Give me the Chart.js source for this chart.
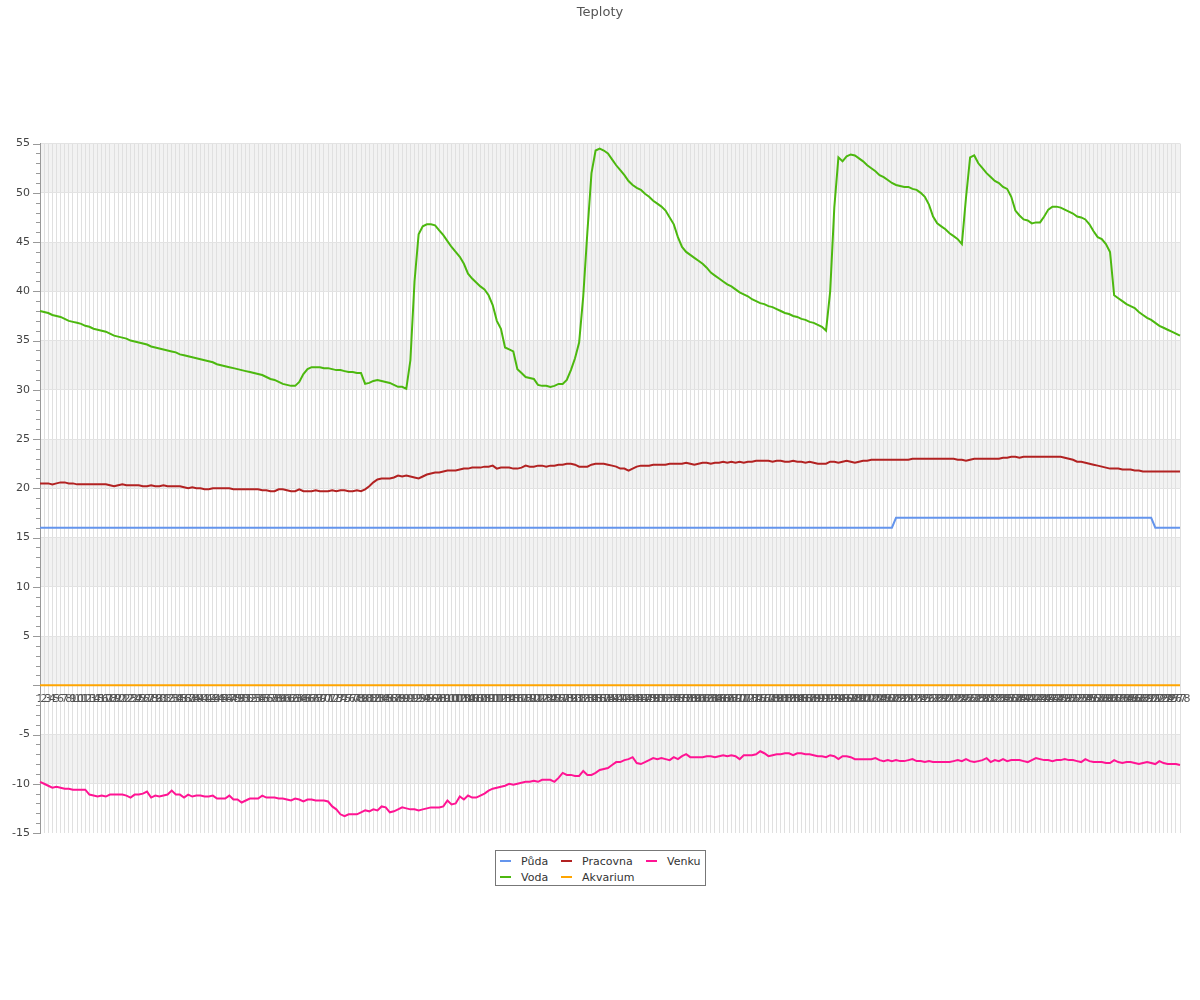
<!DOCTYPE html>
<html>
<head>
<meta charset="utf-8">
<title>Teploty</title>
<script src="https://cdn.jsdelivr.net/npm/chart.js@4.4.1/dist/chart.umd.min.js"></script>
<style>
  body { margin: 0; background: #fff; font-family: "DejaVu Sans", sans-serif; }
  #wrap { position: relative; width: 1200px; height: 1000px; }
  #legend {
    position: absolute; left: 495px; top: 850px; box-sizing: border-box;
    width: 211px; height: 36px; border: 1px solid #777; background: #fff;
    padding: 2px 4px; display: grid; grid-template-columns: 61px 85px 55px;
    grid-template-rows: 16px 16px; grid-auto-flow: column;
    font-size: 11px; color: #333;
  }
  #legend .item { display: flex; align-items: center; white-space: nowrap; }
  #legend .sw { width: 11px; height: 2px; margin-right: 10px; }
</style>
</head>
<body>
<div id="wrap">
  <canvas id="teploty" width="1200" height="1000"></canvas>
  <div id="legend"></div>
</div>
<script>
const labels = [];
for (let i = 1; i <= 278; i++) labels.push(String(i));

const seriesNames = ["Půda", "Voda", "Pracovna", "Akvarium", "Venku"];
const seriesColors = ["#6495ed", "#4cb80f", "#b22222", "#ffa500", "#ff1493"];

const puda = [
  16, 16, 16, 16, 16, 16, 16, 16, 16, 16,
  16, 16, 16, 16, 16, 16, 16, 16, 16, 16,
  16, 16, 16, 16, 16, 16, 16, 16, 16, 16,
  16, 16, 16, 16, 16, 16, 16, 16, 16, 16,
  16, 16, 16, 16, 16, 16, 16, 16, 16, 16,
  16, 16, 16, 16, 16, 16, 16, 16, 16, 16,
  16, 16, 16, 16, 16, 16, 16, 16, 16, 16,
  16, 16, 16, 16, 16, 16, 16, 16, 16, 16,
  16, 16, 16, 16, 16, 16, 16, 16, 16, 16,
  16, 16, 16, 16, 16, 16, 16, 16, 16, 16,
  16, 16, 16, 16, 16, 16, 16, 16, 16, 16,
  16, 16, 16, 16, 16, 16, 16, 16, 16, 16,
  16, 16, 16, 16, 16, 16, 16, 16, 16, 16,
  16, 16, 16, 16, 16, 16, 16, 16, 16, 16,
  16, 16, 16, 16, 16, 16, 16, 16, 16, 16,
  16, 16, 16, 16, 16, 16, 16, 16, 16, 16,
  16, 16, 16, 16, 16, 16, 16, 16, 16, 16,
  16, 16, 16, 16, 16, 16, 16, 16, 16, 16,
  16, 16, 16, 16, 16, 16, 16, 16, 16, 16,
  16, 16, 16, 16, 16, 16, 16, 16, 16, 16,
  16, 16, 16, 16, 16, 16, 16, 16, 17, 17,
  17, 17, 17, 17, 17, 17, 17, 17, 17, 17,
  17, 17, 17, 17, 17, 17, 17, 17, 17, 17,
  17, 17, 17, 17, 17, 17, 17, 17, 17, 17,
  17, 17, 17, 17, 17, 17, 17, 17, 17, 17,
  17, 17, 17, 17, 17, 17, 17, 17, 17, 17,
  17, 17, 17, 17, 17, 17, 17, 17, 17, 17,
  17, 16, 16, 16, 16, 16, 16, 16
];

const voda = [
  38.0, 37.9, 37.8, 37.6, 37.5, 37.4, 37.2, 37.0, 36.9, 36.8,
  36.7, 36.5, 36.4, 36.2, 36.1, 36.0, 35.9, 35.7, 35.5, 35.4,
  35.3, 35.2, 35.0, 34.9, 34.8, 34.7, 34.6, 34.4, 34.3, 34.2,
  34.1, 34.0, 33.9, 33.8, 33.6, 33.5, 33.4, 33.3, 33.2, 33.1,
  33.0, 32.9, 32.8, 32.6, 32.5, 32.4, 32.3, 32.2, 32.1, 32.0,
  31.9, 31.8, 31.7, 31.6, 31.5, 31.3, 31.1, 31.0, 30.8, 30.6,
  30.5, 30.4, 30.4, 30.8, 31.6, 32.1, 32.3, 32.3, 32.3, 32.2,
  32.2, 32.1, 32.0, 32.0, 31.9, 31.8, 31.8, 31.7, 31.7, 30.6,
  30.7, 30.9, 31.0, 30.9, 30.8, 30.7, 30.5, 30.3, 30.3, 30.1,
  33.0, 41.0, 45.8, 46.6, 46.8, 46.8, 46.7, 46.2, 45.7, 45.1,
  44.5, 44.0, 43.5, 42.8, 41.8, 41.3, 40.9, 40.5, 40.2, 39.6,
  38.6, 37.0, 36.2, 34.3, 34.1, 33.9, 32.1, 31.7, 31.3, 31.2,
  31.1, 30.5, 30.4, 30.4, 30.3, 30.4, 30.6, 30.6, 31.0, 32.0,
  33.2, 34.8, 39.5, 46.0, 52.0, 54.3, 54.5, 54.3, 54.0, 53.4,
  52.8, 52.3, 51.8, 51.2, 50.8, 50.5, 50.3, 49.9, 49.6, 49.2,
  48.9, 48.6, 48.2, 47.5, 46.8, 45.5, 44.5, 44.0, 43.7, 43.4,
  43.1, 42.8, 42.4, 41.9, 41.6, 41.3, 41.0, 40.7, 40.5, 40.2,
  39.9, 39.7, 39.5, 39.2, 39.0, 38.8, 38.7, 38.5, 38.4, 38.2,
  38.0, 37.8, 37.7, 37.5, 37.4, 37.2, 37.1, 36.9, 36.8, 36.6,
  36.4, 36.0, 40.0, 48.5, 53.6, 53.2, 53.7, 53.9, 53.8, 53.5,
  53.2, 52.8, 52.5, 52.2, 51.8, 51.6, 51.3, 51.0, 50.8, 50.7,
  50.6, 50.6, 50.4, 50.3, 50.0, 49.6, 48.8, 47.6, 46.9, 46.6,
  46.3, 45.9, 45.6, 45.3, 44.8, 49.5, 53.6, 53.8, 53.0, 52.5,
  52.0, 51.6, 51.2, 51.0, 50.6, 50.4, 49.6, 48.2, 47.7, 47.3,
  47.2, 46.9, 47.0, 47.0, 47.6, 48.3, 48.6, 48.6, 48.5, 48.3,
  48.1, 47.9, 47.6, 47.5, 47.3, 46.8, 46.1, 45.5, 45.3, 44.8,
  44.0, 39.6, 39.3, 39.0, 38.7, 38.5, 38.3, 37.9, 37.6, 37.3,
  37.1, 36.8, 36.5, 36.3, 36.1, 35.9, 35.7, 35.5
];

const pracovna = [
  20.5, 20.5, 20.5, 20.4, 20.5, 20.6, 20.6, 20.5, 20.5, 20.4,
  20.4, 20.4, 20.4, 20.4, 20.4, 20.4, 20.4, 20.3, 20.2, 20.3,
  20.4, 20.3, 20.3, 20.3, 20.3, 20.2, 20.2, 20.3, 20.2, 20.2,
  20.3, 20.2, 20.2, 20.2, 20.2, 20.1, 20.0, 20.1, 20.0, 20.0,
  19.9, 19.9, 20.0, 20.0, 20.0, 20.0, 20.0, 19.9, 19.9, 19.9,
  19.9, 19.9, 19.9, 19.9, 19.8, 19.8, 19.7, 19.7, 19.9, 19.9,
  19.8, 19.7, 19.7, 19.9, 19.7, 19.7, 19.7, 19.8, 19.7, 19.7,
  19.7, 19.8, 19.7, 19.8, 19.8, 19.7, 19.7, 19.8, 19.7, 19.9,
  20.2, 20.6, 20.9, 21.0, 21.0, 21.0, 21.1, 21.3, 21.2, 21.3,
  21.2, 21.1, 21.0, 21.2, 21.4, 21.5, 21.6, 21.6, 21.7, 21.8,
  21.8, 21.8, 21.9, 22.0, 22.0, 22.1, 22.1, 22.1, 22.2, 22.2,
  22.3, 22.0, 22.1, 22.1, 22.1, 22.0, 22.0, 22.1, 22.3, 22.2,
  22.2, 22.3, 22.3, 22.2, 22.3, 22.3, 22.4, 22.4, 22.5, 22.5,
  22.4, 22.2, 22.2, 22.2, 22.4, 22.5, 22.5, 22.5, 22.4, 22.3,
  22.2, 22.0, 22.0, 21.8, 22.0, 22.2, 22.3, 22.3, 22.3, 22.4,
  22.4, 22.4, 22.4, 22.5, 22.5, 22.5, 22.5, 22.6, 22.5, 22.4,
  22.5, 22.6, 22.6, 22.5, 22.6, 22.6, 22.7, 22.6, 22.7, 22.6,
  22.7, 22.6, 22.7, 22.7, 22.8, 22.8, 22.8, 22.8, 22.7, 22.8,
  22.8, 22.7, 22.7, 22.8, 22.7, 22.7, 22.6, 22.7, 22.6, 22.5,
  22.5, 22.5, 22.7, 22.7, 22.6, 22.7, 22.8, 22.7, 22.6, 22.7,
  22.8, 22.8, 22.9, 22.9, 22.9, 22.9, 22.9, 22.9, 22.9, 22.9,
  22.9, 22.9, 23.0, 23.0, 23.0, 23.0, 23.0, 23.0, 23.0, 23.0,
  23.0, 23.0, 23.0, 22.9, 22.9, 22.8, 22.9, 23.0, 23.0, 23.0,
  23.0, 23.0, 23.0, 23.0, 23.1, 23.1, 23.2, 23.2, 23.1, 23.2,
  23.2, 23.2, 23.2, 23.2, 23.2, 23.2, 23.2, 23.2, 23.2, 23.1,
  23.0, 22.9, 22.7, 22.7, 22.6, 22.5, 22.4, 22.3, 22.2, 22.1,
  22.0, 22.0, 22.0, 21.9, 21.9, 21.9, 21.8, 21.8, 21.7, 21.7,
  21.7, 21.7, 21.7, 21.7, 21.7, 21.7, 21.7, 21.7
];

const akvarium = [
  0, 0, 0, 0, 0, 0, 0, 0, 0, 0,
  0, 0, 0, 0, 0, 0, 0, 0, 0, 0,
  0, 0, 0, 0, 0, 0, 0, 0, 0, 0,
  0, 0, 0, 0, 0, 0, 0, 0, 0, 0,
  0, 0, 0, 0, 0, 0, 0, 0, 0, 0,
  0, 0, 0, 0, 0, 0, 0, 0, 0, 0,
  0, 0, 0, 0, 0, 0, 0, 0, 0, 0,
  0, 0, 0, 0, 0, 0, 0, 0, 0, 0,
  0, 0, 0, 0, 0, 0, 0, 0, 0, 0,
  0, 0, 0, 0, 0, 0, 0, 0, 0, 0,
  0, 0, 0, 0, 0, 0, 0, 0, 0, 0,
  0, 0, 0, 0, 0, 0, 0, 0, 0, 0,
  0, 0, 0, 0, 0, 0, 0, 0, 0, 0,
  0, 0, 0, 0, 0, 0, 0, 0, 0, 0,
  0, 0, 0, 0, 0, 0, 0, 0, 0, 0,
  0, 0, 0, 0, 0, 0, 0, 0, 0, 0,
  0, 0, 0, 0, 0, 0, 0, 0, 0, 0,
  0, 0, 0, 0, 0, 0, 0, 0, 0, 0,
  0, 0, 0, 0, 0, 0, 0, 0, 0, 0,
  0, 0, 0, 0, 0, 0, 0, 0, 0, 0,
  0, 0, 0, 0, 0, 0, 0, 0, 0, 0,
  0, 0, 0, 0, 0, 0, 0, 0, 0, 0,
  0, 0, 0, 0, 0, 0, 0, 0, 0, 0,
  0, 0, 0, 0, 0, 0, 0, 0, 0, 0,
  0, 0, 0, 0, 0, 0, 0, 0, 0, 0,
  0, 0, 0, 0, 0, 0, 0, 0, 0, 0,
  0, 0, 0, 0, 0, 0, 0, 0, 0, 0,
  0, 0, 0, 0, 0, 0, 0, 0
];

const venku = [
  -9.8, -10.0, -10.2, -10.4, -10.3, -10.4, -10.5, -10.5, -10.6, -10.6,
  -10.6, -10.6, -11.1, -11.2, -11.3, -11.2, -11.3, -11.1, -11.1, -11.1,
  -11.1, -11.2, -11.4, -11.1, -11.1, -11.0, -10.8, -11.4, -11.2, -11.3,
  -11.2, -11.1, -10.7, -11.1, -11.1, -11.4, -11.1, -11.3, -11.2, -11.2,
  -11.3, -11.3, -11.2, -11.5, -11.5, -11.5, -11.2, -11.6, -11.6, -11.9,
  -11.7, -11.5, -11.5, -11.5, -11.2, -11.4, -11.4, -11.4, -11.5, -11.5,
  -11.6, -11.7, -11.5, -11.6, -11.8, -11.6, -11.6, -11.7, -11.7, -11.7,
  -11.8, -12.3, -12.6, -13.1, -13.3, -13.1, -13.1, -13.1, -12.9, -12.7,
  -12.8, -12.6, -12.7, -12.3, -12.4, -12.9, -12.8, -12.6, -12.4, -12.5,
  -12.6, -12.6, -12.7, -12.6, -12.5, -12.4, -12.4, -12.4, -12.3, -11.7,
  -12.1, -12.0, -11.3, -11.6, -11.2, -11.4, -11.4, -11.2, -11.0, -10.7,
  -10.5, -10.4, -10.3, -10.2, -10.0, -10.1, -10.0, -9.9, -9.8, -9.8,
  -9.7, -9.8, -9.6, -9.6, -9.6, -9.8, -9.4, -8.9, -9.1, -9.1,
  -9.2, -9.2, -8.7, -9.1, -9.1, -8.9, -8.6, -8.5, -8.4, -8.1,
  -7.8, -7.8, -7.6, -7.5, -7.3, -7.9, -8.0, -7.8, -7.6, -7.4,
  -7.5, -7.4, -7.5, -7.6, -7.3, -7.5, -7.2, -7.0, -7.3, -7.3,
  -7.3, -7.3, -7.2, -7.2, -7.3, -7.2, -7.1, -7.2, -7.1, -7.2,
  -7.5, -7.1, -7.1, -7.1, -7.0, -6.7, -6.9, -7.2, -7.1, -7.0,
  -7.0, -6.9, -6.9, -7.1, -6.9, -6.9, -7.0, -7.0, -7.1, -7.2,
  -7.2, -7.3, -7.1, -7.2, -7.5, -7.2, -7.2, -7.3, -7.5, -7.5,
  -7.5, -7.5, -7.5, -7.4, -7.6, -7.7, -7.6, -7.7, -7.6, -7.7,
  -7.7, -7.6, -7.5, -7.7, -7.7, -7.8, -7.7, -7.8, -7.8, -7.8,
  -7.8, -7.8, -7.7, -7.6, -7.7, -7.5, -7.7, -7.8, -7.7, -7.6,
  -7.4, -7.8, -7.6, -7.7, -7.5, -7.7, -7.6, -7.6, -7.6, -7.7,
  -7.8, -7.6, -7.4, -7.5, -7.6, -7.6, -7.7, -7.6, -7.6, -7.5,
  -7.6, -7.6, -7.7, -7.8, -7.5, -7.7, -7.8, -7.8, -7.8, -7.9,
  -7.9, -7.6, -7.8, -7.9, -7.8, -7.8, -7.9, -8.0, -7.9, -7.8,
  -7.9, -8.0, -7.7, -7.9, -8.0, -8.0, -8.0, -8.1
];

const yMin = -15;
const yMax = 55;

// grey bands every other 5 degrees + minor ticks on the y axis
const bandsPlugin = {
  id: "bands",
  beforeDraw(chart) {
    const { ctx, chartArea: a, scales } = chart;
    const y = scales.y;
    ctx.save();
    ctx.fillStyle = "#f2f2f2";
    for (let v = yMax; v > yMin; v -= 10) {
      const top = y.getPixelForValue(v);
      const bot = y.getPixelForValue(v - 5);
      ctx.fillRect(a.left, top, a.right - a.left, bot - top);
    }
    ctx.restore();
  },
  afterDraw(chart) {
    const { ctx, scales } = chart;
    const y = scales.y;
    ctx.save();
    ctx.strokeStyle = "#999";
    ctx.lineWidth = 1;
    y.ticks.forEach((t) => {
      const py = Math.round(y.getPixelForValue(t.value)) + 0.5;
      const len = t.value % 5 === 0 ? 7 : 4;
      ctx.beginPath();
      ctx.moveTo(y.right - len, py);
      ctx.lineTo(y.right, py);
      ctx.stroke();
    });
    ctx.restore();
  }
};

const datasets = [puda, voda, pracovna, akvarium, venku].map((data, i) => ({
  label: seriesNames[i],
  data: data,
  borderColor: seriesColors[i],
  backgroundColor: seriesColors[i],
  borderWidth: 2,
  pointRadius: 0,
  tension: 0,
  fill: false
}));

const ctx = document.getElementById("teploty").getContext("2d");
const chart = new Chart(ctx, {
  type: "line",
  data: { labels: labels, datasets: datasets },
  plugins: [bandsPlugin],
  options: {
    responsive: false,
    animation: false,
    layout: { padding: { left: 0, right: 0, top: 0, bottom: 167 } },
    plugins: {
      legend: { display: false },
      tooltip: { enabled: false },
      title: {
        display: true,
        text: "Teploty",
        color: "#555",
        font: { family: "DejaVu Sans", size: 13, weight: "normal" },
        padding: { top: 5, bottom: 123 }
      }
    },
    scales: {
      x: {
        position: { y: 0 },
        afterFit: (scale) => { scale.height = 0; },
        border: { display: false },
        grid: { color: "#e0e0e0", drawTicks: false },
        ticks: {
          autoSkip: false,
          maxRotation: 0,
          minRotation: 0,
          padding: 7,
          color: "#555",
          font: { family: "DejaVu Sans", size: 11 }
        }
      },
      y: {
        min: yMin,
        max: yMax,
        afterFit: (scale) => { scale.width = 40; },
        border: { display: true, color: "#999" },
        grid: {
          drawTicks: false,
          color: (c) => (c.tick && c.tick.value % 5 === 0 && c.tick.value !== yMin ? "#e3e3e3" : "transparent")
        },
        ticks: {
          stepSize: 1,
          autoSkip: false,
          padding: 10,
          color: "#444",
          font: { family: "DejaVu Sans", size: 11 },
          callback: (v) => (v % 5 === 0 && v !== 0 ? String(v) : "")
        }
      },
      // empty right-hand axis, only keeps a 20px margin so the title stays centred
      yRight: {
        position: "right",
        afterFit: (scale) => { scale.width = 20; },
        border: { display: false },
        grid: { drawOnChartArea: false, drawTicks: false },
        ticks: { display: false }
      }
    }
  }
});

// legend box laid out in columns like the original
const legend = document.getElementById("legend");
chart.data.datasets.forEach((ds) => {
  const item = document.createElement("div");
  item.className = "item";
  item.innerHTML = `<span class="sw" style="background:${ds.borderColor}"></span>${ds.label}`;
  legend.appendChild(item);
});
</script>
</body>
</html>
